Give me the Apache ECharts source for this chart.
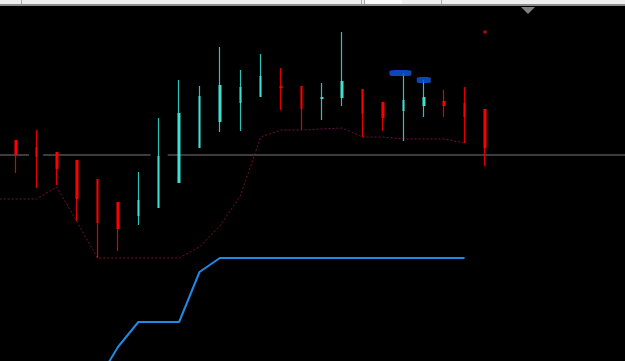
<!DOCTYPE html>
<html>
<head>
<meta charset="utf-8">
<script src="https://cdn.jsdelivr.net/npm/echarts@6/dist/echarts.min.js"></script>
<style>
html,body{margin:0;padding:0;background:#000;}
#main{width:625px;height:361px;}
</style>
</head>
<body>
<div id="main"></div>
<script>
// Bar slots: index 0 is a partially off-screen slot; slots 25..30 are empty future bars
const categories = ['B0','B1','B2','B3','B4','B5','B6','B7','B8','B9','B10','B11','B12','B13','B14','B15',
  'B16','B17','B18','B19','B20','B21','B22','B23','B24','B25','B26','B27','B28','B29','B30'];
// visible window of the bar axis (bar-index units)
const xMin = 0.216, xMax = 30.868;

// OHLC values (price units)
const openV  = ['-',221,214,209,201,182,159,145,153,178,213,239,258,264,275,275,262,263,272,259,250,255,260,258,252];
const closeV = ['-',206,204,192,162,138,132,161,205,248,265,276,274,285,273,252,264,280,247,243,261,264,255,244,213];
const lowV   = ['-',188,173,176,140,103,110,136,153,178,213,229,230,264,251,231,241,255,224,230,220,244,244,218,195];
const highV  = ['-',221,231,209,201,182,159,189,243,281,275,314,291,307,293,275,278,329,272,259,288,281,271,274,252];

// Dotted indicator line
const dottedLine = [162,162,162,174,139,103,103,103,103,103,114,135,165,224,231,231,232,233,224,224,222,222,222,218];
// Solid blue indicator line
const blueLine = ['-','-','-','-','-',-20,14,39,39,39,89,103,103,103,103,103,103,103,103,103,103,103,103,103];

// Horizontal level and the gaps in it (bar-index units)
const levelValue = 206;
const levelGaps = [[1.64, 2.33], [7.60, 8.44]];

// Markers at highs
const markerBars = [20, 21];
const markerValues = [288, 281];
const markerWidths = [22, 14];
const markerOffsets = [-3, 0];
const dotBar = 24;
const dotValue = 329;

// Build series data
const wickData = [], bodyData = [];
for (let i = 0; i < openV.length; i++) {
  const o = openV[i], c = closeV[i];
  if (o === '-') continue;
  wickData.push([i, o, c, lowV[i], highV[i]]);
  bodyData.push([i, o, c, Math.min(o, c), Math.max(o, c)]);
}
const dottedData = dottedLine.map((v, i) => [i, v]);
const blueData = blueLine.map((v, i) => [i, v]);
const levelData = [];
let startX = 0;
levelGaps.forEach(g => {
  levelData.push([startX, levelValue], [g[0], levelValue], [g[0], '-']);
  startX = g[1];
});
levelData.push([startX, levelValue], [categories.length, levelValue]);

const markerData = markerBars.map((b, k) => ({
  value: [b, markerValues[k]],
  symbolSize: [markerWidths[k], 6],
  symbolOffset: [markerOffsets[k], 0]
}));

const chart = echarts.init(document.getElementById('main'), null, {renderer: 'canvas'});
chart.setOption({
  backgroundColor: '#000000',
  animation: false,
  grid: {left: 0, right: 0, top: 0, bottom: 0, containLabel: false},
  xAxis: {type: 'value', min: xMin, max: xMax, show: false, splitLine: {show: false}},
  yAxis: {type: 'value', min: 0, max: 361, show: false, splitLine: {show: false}},
  series: [
    {
      name: 'level', type: 'line', data: levelData, symbol: 'none',
      connectNulls: false, lineStyle: {color: '#3c3c3c', width: 2}, z: 1
    },
    {
      name: 'span', type: 'line', data: dottedData, symbol: 'none',
      lineStyle: {color: '#7a0c40', width: 1, type: [2, 2]}, z: 2
    },
    {
      name: 'trend', type: 'line', data: blueData, symbol: 'none',
      lineStyle: {color: '#1e8ae6', width: 2}, z: 2
    },
    {
      name: 'wick', type: 'candlestick', data: wickData, barWidth: 0,
      encode: {x: 0, y: [1, 2, 3, 4]},
      itemStyle: {color: '#2cc4b4', color0: '#e00000', borderColor: '#2cc4b4', borderColor0: '#e00000', borderWidth: 1.2},
      z: 3
    },
    {
      name: 'body', type: 'candlestick', data: bodyData, barWidth: 3,
      encode: {x: 0, y: [1, 2, 3, 4]},
      itemStyle: {color: '#40e0d0', color0: '#ff0000', borderColor: '#40e0d0', borderColor0: '#ff0000', borderWidth: 0},
      z: 4
    },
    {
      name: 'marks', type: 'scatter', data: markerData, symbol: 'roundRect',
      itemStyle: {color: '#0a5ae8'}, z: 5
    },
    {
      name: 'dot', type: 'scatter', data: [[dotBar, dotValue]], symbol: 'rect', symbolSize: 3,
      itemStyle: {color: '#ff0000'}, z: 5
    }
  ],
  graphic: [
    {type: 'rect', shape: {x: 0, y: 0, width: 625, height: 4}, style: {fill: '#efefef'}, z: 100},
    {type: 'rect', shape: {x: 0, y: 4, width: 625, height: 2}, style: {fill: '#8c8c8c'}, z: 100},
    {type: 'rect', shape: {x: 364, y: 0, width: 38, height: 4}, style: {fill: '#fbfbfb'}, z: 101},
    {type: 'rect', shape: {x: 21, y: 0, width: 1, height: 4}, style: {fill: '#a8a8a8'}, z: 101},
    {type: 'rect', shape: {x: 361, y: 0, width: 1, height: 4}, style: {fill: '#a8a8a8'}, z: 101},
    {type: 'rect', shape: {x: 364, y: 0, width: 1, height: 4}, style: {fill: '#a8a8a8'}, z: 101},
    {type: 'rect', shape: {x: 441, y: 0, width: 1, height: 4}, style: {fill: '#a8a8a8'}, z: 101},
    {type: 'polygon', shape: {points: [[521, 7], [535, 7], [528, 14]]}, style: {fill: '#808080'}, z: 101}
  ]
});
</script>
</body>
</html>
